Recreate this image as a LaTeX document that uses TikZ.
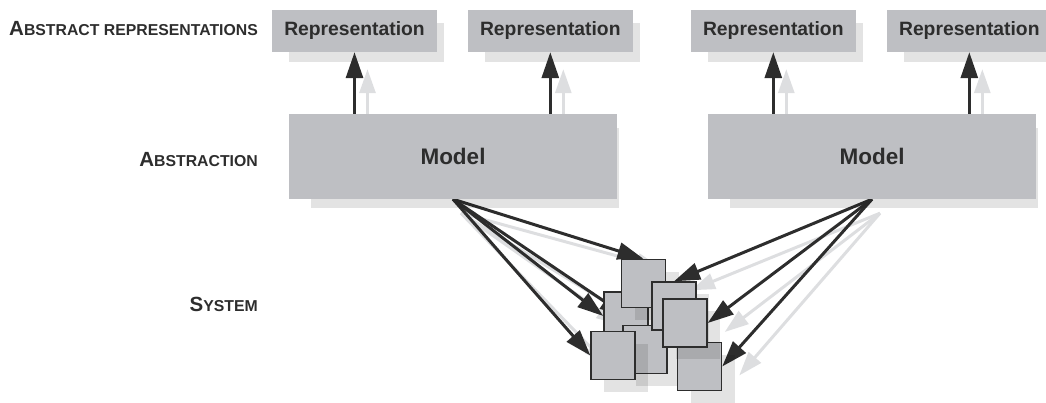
\documentclass[tikz,border=0pt]{standalone}
\usepackage{fontspec}
\setmainfont{Liberation Sans}
\usepackage{xcolor}
\usetikzlibrary{arrows.meta,shadows}

\definecolor{boxgray}{HTML}{BEBFC3}
\definecolor{ink}{HTML}{2D2D2D}
\definecolor{ghost}{HTML}{DDDEE0}

\pgfdeclarelayer{bg}
\pgfsetlayers{bg,main}

% first letter large, the rest as small capitals
\newcommand{\lvltext}[2]{{\fontsize{20.5}{20}\selectfont #1}{\fontsize{15.8}{16}\selectfont #2}}

\begin{document}
\begin{tikzpicture}[x=1pt,y=-1pt,
    boxshadow/.style={drop shadow={shadow xshift=13pt,shadow yshift=-12pt,shadow scale=0.94,fill=black,opacity=0.11}},
    repbox/.style={boxshadow,fill=boxgray,minimum width=165pt,minimum height=42pt,inner sep=0pt,
        text=ink,font=\bfseries\fontsize{19.3}{20}\selectfont},
    modelbox/.style={boxshadow,fill=boxgray,minimum width=328pt,minimum height=85pt,inner sep=0pt,
        text=ink,font=\bfseries\fontsize{22.5}{24}\selectfont},
    cube/.style={drop shadow={shadow xshift=13pt,shadow yshift=-12pt,fill=black,opacity=0.11},
        fill=boxgray,draw=ink,line width=1.4pt,minimum width=44pt,minimum height=48pt,inner sep=0pt},
    lvl/.style={anchor=base east,inner sep=0pt,text=ink,font=\bfseries},
    link/.style={draw=ink,line width=3pt,-{Triangle[length=26pt,width=17pt]}},
    ghostlink/.style={draw=ghost,line width=3pt,-{Triangle[length=24pt,width=16pt]}}]

    \useasboundingbox (0,0) rectangle (1046,403);

    % level labels
    \node[lvl] (lblrep) at (258,36) {\lvltext{A}{BSTRACT REPRESENTATIONS}};
    \node[lvl] (lblabs) at (258,166.7) {\lvltext{A}{BSTRACTION}};
    \node[lvl] (lblsys) at (258,311.7) {\lvltext{S}{YSTEM}};

    % representations
    \node[repbox] (r1) at (354.5,31) {Representation};
    \node[repbox] (r2) at (550.3,31) {Representation};
    \node[repbox] (r3) at (773.3,31) {Representation};
    \node[repbox] (r4) at (969.3,31) {Representation};

    % models
    \node[modelbox] (m1) at (453,156.5) {Model};
    \node[modelbox] (m2) at (872,156.5) {Model};

    \foreach \r/\m in {r1/m1,r2/m1,r3/m2,r4/m2}{
        \draw[ghostlink] ([xshift=13pt]\r.south |- \m.north) -- ([shift={(13,17)}]\r.south);
        \draw[link] (\r.south |- \m.north) -- (\r.south);
    }

    % system parts
    \node[cube] (s2) at (626,316) {};
    \node[cube] (s1) at (643.5,283.5) {};
    \node[cube] (s3) at (645,349.5) {};
    \node[cube] (s4) at (613,355.5) {};
    \node[cube] (s7) at (699.5,366.5) {};
    \node[cube] (s5) at (674,306) {};
    \node[cube] (s6) at (685,323) {};

    \begin{pgfonlayer}{bg}
        \foreach \m/\s in {m1/s1.north,m1/s2.center,m1/s2.west,m1/s4.west,m2/s5.north,m2/s6.east,m2/s7.east}
            \draw[ghostlink] ([shift={(8,14)}]\m.south) -- ([shift={(17,9)}]\s);
        \foreach \m/\s in {m1/s1.north,m1/s2.center,m1/s2.west,m1/s4.west,m2/s5.north,m2/s6.east,m2/s7.east}
            \draw[link] (\m.south) -- (\s);
    \end{pgfonlayer}
\end{tikzpicture}
\end{document}
